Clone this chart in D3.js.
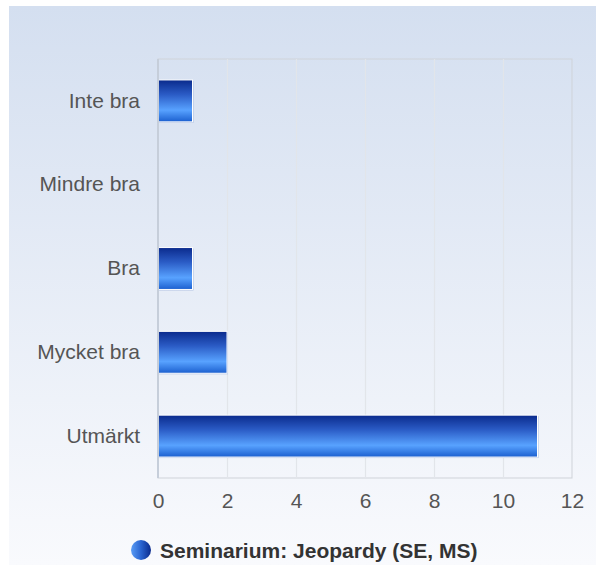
<!DOCTYPE html>
<html><head><meta charset="utf-8">
<script src="https://cdn.jsdelivr.net/npm/d3@7"></script>
<style>body{margin:0;background:#fff}svg{display:block}</style>
</head><body>
<script>
const categories = ["Inte bra","Mindre bra","Bra","Mycket bra","Utmärkt"];
const values = [1,0,1,2,11];
const xTicks = [0,2,4,6,8,10,12];
const seriesName = "Seminarium: Jeopardy (SE, MS)";

const W=596,H=565;
const FONT="Liberation Sans, Arial, Helvetica, sans-serif";
const svg=d3.select("body").append("svg").attr("width",W).attr("height",H);
const defs=svg.append("defs");
const bg=defs.append("linearGradient").attr("id","bg").attr("x1",0).attr("y1",0).attr("x2",0).attr("y2",1);
bg.append("stop").attr("offset",0).attr("stop-color","#d4dff0");
bg.append("stop").attr("offset",1).attr("stop-color","#f9fafd");
const bar=defs.append("linearGradient").attr("id","bar").attr("x1",0).attr("y1",0).attr("x2",0).attr("y2",1);
[[0,"#0a2a8c"],[0.35,"#2b5cc6"],[0.72,"#58a2ff"],[1,"#1b5fcf"]].forEach(s=>bar.append("stop").attr("offset",s[0]).attr("stop-color",s[1]));
const sph=defs.append("linearGradient").attr("id","sph").attr("x1",0).attr("y1",0).attr("x2",1).attr("y2",0);
[[0,"#5a9cf5"],[0.5,"#2a64d0"],[1,"#0a2a8c"]].forEach(s=>sph.append("stop").attr("offset",s[0]).attr("stop-color",s[1]));

svg.append("rect").attr("x",9).attr("y",6).attr("width",W-9).attr("height",H-6).attr("fill","url(#bg)");

const L=158,R=572,T=59,B=478;
const x=d3.scaleLinear().domain([0,12]).range([L,R]);
const y=d3.scaleBand().domain(categories).range([T,B]).paddingInner(0.5).paddingOuter(0.25);

svg.append("rect").attr("x",L).attr("y",T).attr("width",R-L).attr("height",B-T).attr("fill","none").attr("stroke","#cfd3d9");
svg.append("g").selectAll("line").data(xTicks.slice(1,-1)).join("line")
 .attr("x1",d=>x(d)+0.5).attr("x2",d=>x(d)+0.5).attr("y1",T).attr("y2",B).attr("stroke","#e2e5ea").attr("stroke-width",1.2);

const bars=svg.append("g");
categories.forEach((c,i)=>{
  if(!values[i]) return;
  const x0=x(0),w=x(values[i])-x(0),y0=y(c),h=y.bandwidth();
  bars.append("rect").attr("x",x0+1).attr("y",y0+1).attr("width",w).attr("height",h).attr("fill","#aebfe0");
  bars.append("rect").attr("x",x0).attr("y",y0).attr("width",w).attr("height",h).attr("fill","url(#bar)").attr("stroke","#fff").attr("stroke-width",1);
});
svg.append("line").attr("x1",L).attr("x2",L).attr("y1",T).attr("y2",B).attr("stroke","#c6ceda").attr("stroke-width",2);

const xa=svg.append("g").attr("transform",`translate(0,${B})`).call(d3.axisBottom(x).tickValues(xTicks).tickSize(0).tickPadding(15));
xa.select(".domain").remove();
xa.selectAll("text").attr("font-family",FONT).attr("font-size",21).attr("fill","#555");

const ya=svg.append("g").attr("transform",`translate(${L},0)`).call(d3.axisLeft(y).tickSize(0).tickPadding(18));
ya.select(".domain").remove();
ya.selectAll("text").attr("font-family",FONT).attr("font-size",21).attr("fill","#555");

const lg=svg.append("g");
lg.append("circle").attr("cx",141).attr("cy",550).attr("r",10).attr("fill","url(#sph)");
lg.append("text").attr("x",160).attr("y",558).text(seriesName).attr("font-family",FONT).attr("font-size",21).attr("font-weight","bold").attr("fill","#333");
</script>
</body></html>
